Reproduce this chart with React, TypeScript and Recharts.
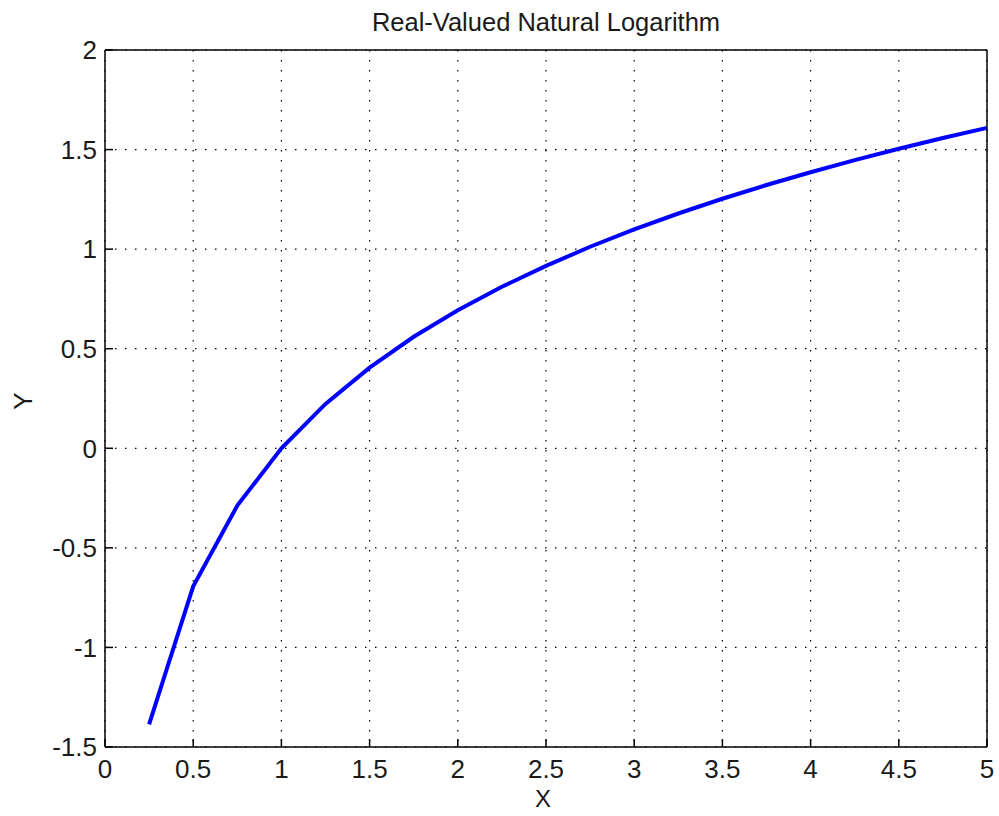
import { CartesianGrid, Line, LineChart, XAxis, YAxis } from 'recharts';

// x sample points and ln(x) values
const xValues = [0.25, 0.5, 0.75, 1, 1.25, 1.5, 1.75, 2, 2.25, 2.5, 2.75, 3, 3.25, 3.5, 3.75, 4, 4.25, 4.5, 4.75, 5];
const yValues = [
  -1.386, -0.693, -0.288, 0, 0.223, 0.405, 0.56, 0.693, 0.811, 0.916, 1.012, 1.099, 1.179, 1.253, 1.322, 1.386,
  1.447, 1.504, 1.558, 1.609,
];
const xTicks = [0, 0.5, 1, 1.5, 2, 2.5, 3, 3.5, 4, 4.5, 5];
const yTicks = [-1.5, -1, -0.5, 0, 0.5, 1, 1.5, 2];

const data = xValues.map((x, i) => ({ x, y: yValues[i] }));

const FONT = '"Liberation Sans", Arial, Helvetica, sans-serif';
const tickStyle = { fontSize: 26, fill: '#1a1a1a', fontFamily: FONT };
const axisLine = { stroke: '#000', strokeWidth: 1.5 };
const tickLine = { stroke: '#000', strokeWidth: 1.5 };

export default function App() {
  return (
    <div style={{ position: 'absolute', left: 0, top: 0, width: 999, height: 816, background: '#fff', fontFamily: FONT }}>
      <LineChart width={999} height={816} data={data} margin={{ top: 49, right: 11, bottom: 0, left: 0 }}>
        <CartesianGrid stroke="#000" strokeWidth={1.2} strokeDasharray="1.5 8.5" />
        <XAxis
          dataKey="x"
          type="number"
          domain={[0, 5]}
          ticks={xTicks}
          height={69}
          tickSize={-8}
          tickMargin={21}
          tick={tickStyle}
          axisLine={axisLine}
          tickLine={tickLine}
          interval={0}
        />
        <XAxis
          xAxisId="top"
          orientation="top"
          dataKey="x"
          type="number"
          domain={[0, 5]}
          ticks={xTicks}
          height={1}
          tickSize={-8}
          tick={false}
          axisLine={axisLine}
          tickLine={tickLine}
          interval={0}
        />
        <YAxis
          type="number"
          domain={[-1.5, 2]}
          ticks={yTicks}
          width={105}
          tickSize={-8}
          tickMargin={16}
          tick={tickStyle}
          axisLine={axisLine}
          tickLine={tickLine}
          interval={0}
        />
        <YAxis
          yAxisId="right"
          orientation="right"
          type="number"
          domain={[-1.5, 2]}
          ticks={yTicks}
          width={1}
          tickSize={-8}
          tick={false}
          axisLine={axisLine}
          tickLine={tickLine}
          interval={0}
        />
        <Line
          type="linear"
          dataKey="y"
          stroke="#0000ff"
          strokeWidth={4}
          dot={false}
          isAnimationActive={false}
        />
      </LineChart>
      <div
        style={{
          position: 'absolute',
          left: 105,
          width: 882,
          top: 8,
          textAlign: 'center',
          fontSize: 25.5,
          lineHeight: 'normal',
          color: '#1a1a1a',
        }}
      >
        Real-Valued Natural Logarithm
      </div>
      <div
        style={{
          position: 'absolute',
          left: 105,
          width: 876,
          top: 789,
          height: 20,
          textAlign: 'center',
          fontSize: 24,
          lineHeight: '20px',
          color: '#1a1a1a',
        }}
      >
        X
      </div>
      <div
        style={{
          position: 'absolute',
          left: 23,
          top: 401,
          transform: 'translate(-50%, -50%) rotate(-90deg)',
          fontSize: 26,
          color: '#1a1a1a',
        }}
      >
        Y
      </div>
    </div>
  );
}
